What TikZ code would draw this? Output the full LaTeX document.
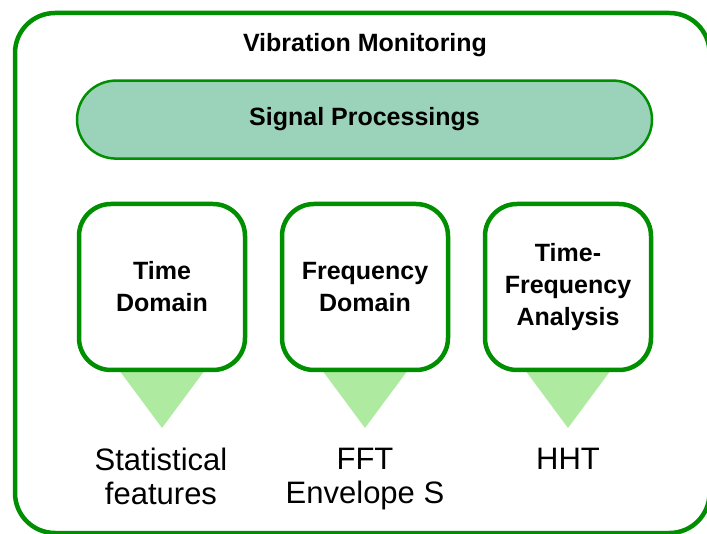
\documentclass[tikz,border=0pt]{standalone}
\usepackage{fontspec}
\setmainfont{Liberation Sans}
\definecolor{edgegreen}{RGB}{0,143,0}
\definecolor{pillfill}{RGB}{154,211,185}
\definecolor{pointfill}{RGB}{174,235,160}
\tikzset{
  frame/.style={draw=edgegreen, line width=4.5pt, rounded corners=40pt},
  pill/.style={draw=edgegreen, fill=pillfill, line width=2.5pt,
    rounded corners=39pt, minimum width=575pt, minimum height=78pt,
    font=\bfseries\fontsize{25}{32}\selectfont, inner sep=0pt},
  headline/.style={font=\bfseries\fontsize{25}{32}\selectfont, inner sep=0pt},
  methodbox/.style={draw=edgegreen, fill=white, line width=4.5pt,
    rounded corners=32pt, minimum width=166pt, minimum height=166pt,
    align=center, inner sep=0pt, font=\bfseries\fontsize{25}{32}\selectfont},
  pointer/.style={fill=pointfill, draw=none},
  outcome/.style={align=center, inner sep=0pt, anchor=north,
    font=\fontsize{31}{34}\selectfont}
}
\begin{document}
\begin{tikzpicture}[x=1pt, y=-1pt]
  \useasboundingbox (0,0) rectangle (707,534);

  % outer frame
  \draw[frame] (15,13) rectangle (709.5,533);
  \node[headline, anchor=base] (title) at (365,52) {Vibration Monitoring};

  % processing band
  \node[pill, anchor=base] (sp) at (364.5,126) {Signal Processings};

  % pointers below each method box
  \coordinate (t1) at (162,428);
  \coordinate (t2) at (365,428);
  \coordinate (t3) at (568,428);
  \fill[pointer] (119,370) -- (205,370) -- (t1) -- cycle;
  \fill[pointer] (322,370) -- (408,370) -- (t2) -- cycle;
  \fill[pointer] (525,370) -- (611,370) -- (t3) -- cycle;

  % method boxes
  \node[methodbox] (td) at (162,287) {Time\\Domain};
  \node[methodbox] (fd) at (365,287) {Frequency\\Domain};
  \node[methodbox] (tf) at (568,287) {Time-\\Frequency\\Analysis};

  % resulting techniques
  \node[outcome] (o1) at (161,447.5) {Statistical\\features};
  \node[outcome] (o2) at (365,447.5) {FFT\\Envelope S};
  \node[outcome] (o3) at (568,447.5) {HHT};
\end{tikzpicture}
\end{document}
